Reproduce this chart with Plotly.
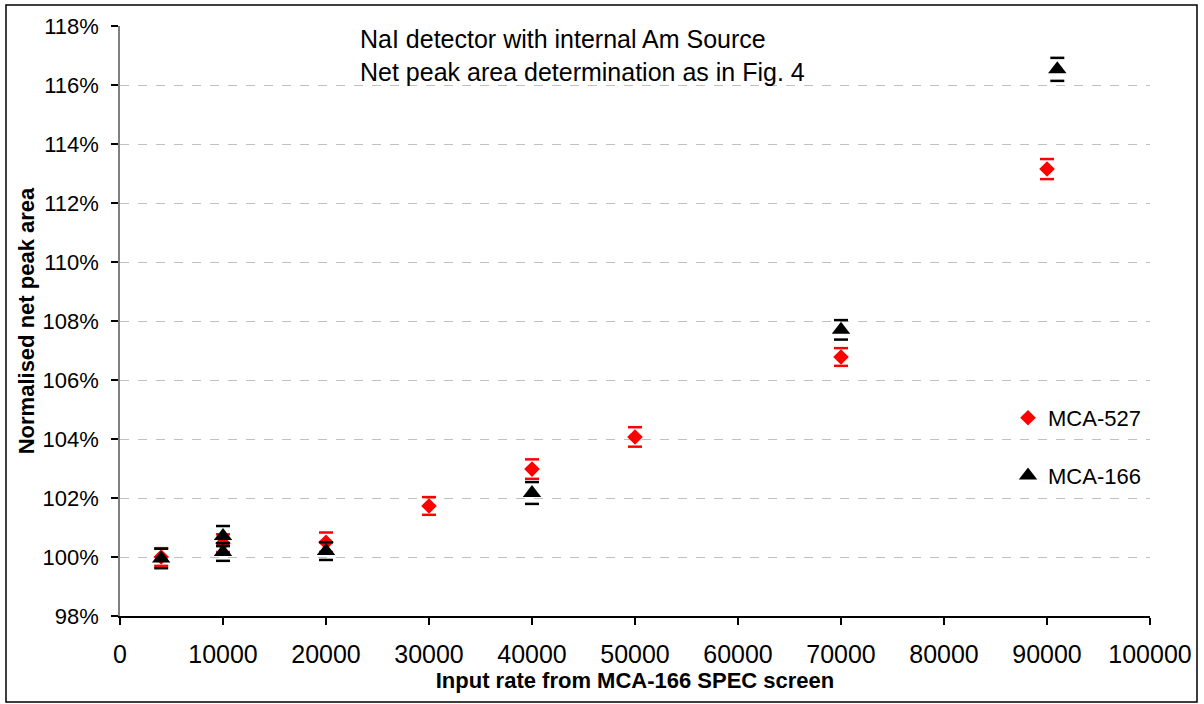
import plotly.graph_objects as go

# MCA-527 (red diamonds)
x_527 = [4000, 10000, 20000, 30000, 40000, 50000, 70000, 90000]
y_527 = [100.0, 100.47, 100.5, 101.73, 102.98, 104.07, 106.78, 113.15]
e_527 = [0.3, 0.3, 0.33, 0.3, 0.33, 0.33, 0.3, 0.34]

# MCA-166 (black triangles)
x_166 = [4000, 10000, 10000, 20000, 40000, 70000, 91000]
y_166 = [99.95, 100.71, 100.17, 100.2, 102.17, 107.7, 116.53]
e_166 = [0.33, 0.34, 0.3, 0.3, 0.37, 0.33, 0.39]

y_ticks = [98, 100, 102, 104, 106, 108, 110, 112, 114, 116, 118]
y_tick_text = [f"{v}%" for v in y_ticks]
x_ticks = [0, 10000, 20000, 30000, 40000, 50000, 60000, 70000, 80000, 90000, 100000]

FONT = "Liberation Sans, Arial, sans-serif"

fig = go.Figure()


def add_series(xs, ys, es, name, group, symbol, size, color):
    # error-bar caps (Excel-style caps without a visible stem)
    cap_x = xs + xs
    cap_y = [y + e for y, e in zip(ys, es)] + [y - e for y, e in zip(ys, es)]
    fig.add_trace(go.Scatter(
        x=cap_x, y=cap_y, mode="markers", showlegend=False, hoverinfo="skip",
        marker=dict(symbol="line-ew", size=10, line=dict(color=color, width=2.5)),
    ))
    fig.add_trace(go.Scatter(
        x=xs, y=ys, mode="markers", name=name, legendgroup=group,
        marker=dict(symbol=symbol, size=size, color=color),
    ))


add_series(x_527, y_527, e_527, "MCA-527", "a", "diamond", 12, "#ff0000")
add_series(x_166, y_166, e_166, "MCA-166", "b", "triangle-up", 16, "#000000")

W, H = 1204, 704
L, R, T, B = 120, 54, 26, 88
pw, ph = W - L - R, H - T - B


def px(xp):
    return (xp - L) / pw


def py(yp):
    return (H - B - yp) / ph


fig.update_layout(
    width=W, height=H,
    margin=dict(l=L, r=R, t=T, b=B),
    paper_bgcolor="white", plot_bgcolor="white",
    font=dict(family=FONT, color="#000000"),
    xaxis=dict(
        range=[0, 100000], tickvals=x_ticks, tickformat="d",
        showgrid=False, zeroline=False,
        showline=True, linecolor="#000000", linewidth=1.5,
        ticks="outside", ticklen=7, tickcolor="#000000", tickwidth=1.5,
        tickfont=dict(size=25, family=FONT), ticklabelstandoff=8,
        title=dict(text="<b>Input rate from MCA-166 SPEC screen</b>",
                   font=dict(size=22, family=FONT), standoff=6),
    ),
    yaxis=dict(
        range=[98, 118], tickvals=y_ticks, ticktext=y_tick_text,
        showgrid=True, gridcolor="#c0c0c0", griddash="dash", gridwidth=1,
        zeroline=False,
        showline=True, linecolor="#808080", linewidth=1.5,
        ticks="outside", ticklen=7, tickcolor="#000000", tickwidth=1.5,
        tickfont=dict(size=22, family=FONT), ticklabelstandoff=8,
        title=dict(text="<b>Normalised net peak area</b>",
                   font=dict(size=22, family=FONT), standoff=2),
    ),
    legend=dict(x=px(1008), y=py(397), xanchor="left", yanchor="top",
                tracegroupgap=26, traceorder="grouped",
                bgcolor="rgba(0,0,0,0)", font=dict(size=22, family=FONT)),
    shapes=[
        dict(type="rect", xref="paper", yref="paper",
             x0=px(990), x1=px(1150), y0=py(520), y1=py(375),
             fillcolor="white", line=dict(width=0), layer="between"),
        dict(type="rect", xref="paper", yref="paper",
             x0=px(6), x1=px(1197), y0=py(702), y1=py(5),
             fillcolor="rgba(0,0,0,0)", line=dict(color="#000000", width=1.5),
             layer="above"),
    ],
    annotations=[
        dict(text="NaI detector with internal Am Source", xref="paper", yref="paper",
             x=px(358), y=py(39), xanchor="left", yanchor="middle", showarrow=False,
             font=dict(size=25, family=FONT)),
        dict(text="Net peak area determination as in Fig. 4", xref="paper", yref="paper",
             x=px(358), y=py(72), xanchor="left", yanchor="middle", showarrow=False,
             font=dict(size=25, family=FONT)),
    ],
)

fig.write_html("out.html")
